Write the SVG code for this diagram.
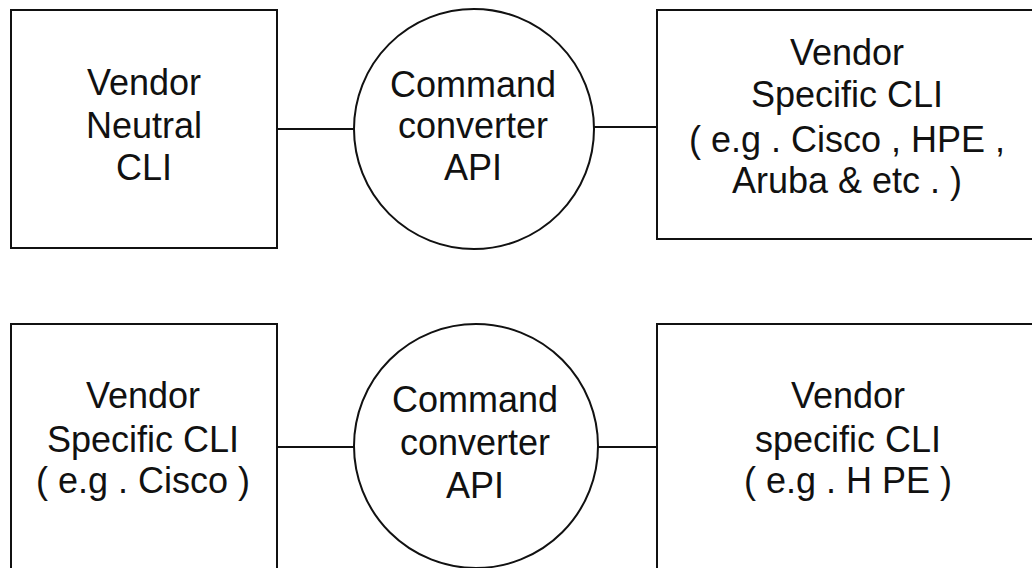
<svg xmlns="http://www.w3.org/2000/svg" width="1032" height="568" viewBox="0 0 1032 568">
  <style>
    .shape { fill: #ffffff; stroke: #111111; stroke-width: 2; }
    .link { stroke: #111111; stroke-width: 2; fill: none; }
    .label { font-family: "Liberation Sans", Arial, sans-serif; font-size: 36px; fill: #111111; text-anchor: middle; }
  </style>
  <rect width="1032" height="568" fill="#ffffff"/>

  <!-- connectors -->
  <g id="connectors">
    <line class="link" x1="277" y1="129" x2="354" y2="129"/>
    <line class="link" x1="594" y1="127" x2="657" y2="127"/>
    <line class="link" x1="277" y1="447" x2="354" y2="447"/>
    <line class="link" x1="598" y1="447" x2="657" y2="447"/>
  </g>

  <!-- top row -->
  <g id="vendor-neutral-cli">
    <rect class="shape" x="11" y="10" width="266" height="238"/>
    <text class="label" x="144" y="95">Vendor</text>
    <text class="label" x="144" y="138">Neutral</text>
    <text class="label" x="144" y="180">CLI</text>
  </g>
  <g id="converter-top">
    <circle class="shape" cx="474" cy="129" r="120"/>
    <text class="label" x="473" y="97">Command</text>
    <text class="label" x="473" y="138">converter</text>
    <text class="label" x="473" y="180">API</text>
  </g>
  <g id="vendor-specific-multi">
    <rect class="shape" x="657" y="10" width="390" height="229"/>
    <text class="label" x="847" y="65">Vendor</text>
    <text class="label" x="847" y="107">Specific CLI</text>
    <text class="label" x="847" y="152">( e.g . Cisco , HPE ,</text>
    <text class="label" x="847" y="193">Aruba &amp; etc . )</text>
  </g>

  <!-- bottom row -->
  <g id="vendor-specific-cisco">
    <rect class="shape" x="11" y="324" width="266" height="260"/>
    <text class="label" x="143" y="408">Vendor</text>
    <text class="label" x="143" y="452">Specific CLI</text>
    <text class="label" x="143" y="493">( e.g . Cisco )</text>
  </g>
  <g id="converter-bottom">
    <circle class="shape" cx="476" cy="446" r="122"/>
    <text class="label" x="475" y="412">Command</text>
    <text class="label" x="475" y="455">converter</text>
    <text class="label" x="475" y="498">API</text>
  </g>
  <g id="vendor-specific-hpe">
    <rect class="shape" x="657" y="324" width="390" height="260"/>
    <text class="label" x="848" y="408">Vendor</text>
    <text class="label" x="848" y="452">specific CLI</text>
    <text class="label" x="848" y="493">( e.g . H PE )</text>
  </g>
</svg>
